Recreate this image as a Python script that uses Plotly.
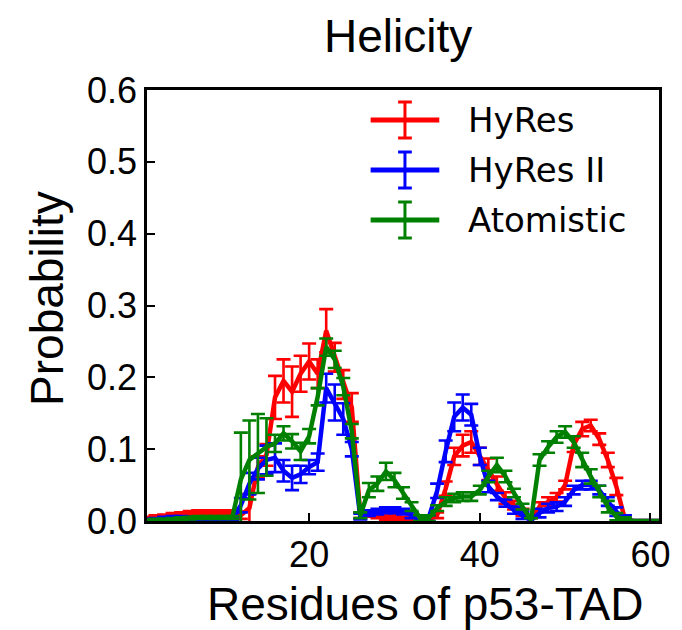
import plotly.graph_objects as go

# Residue index along p53-TAD
residues = list(range(1, 62))

# Helicity per residue (mean) and its error, for each model
hyres = [0.003, 0.005, 0.006, 0.008, 0.009, 0.011, 0.012, 0.012, 0.012, 0.012,
         0.012, 0.008, 0.018, 0.075, 0.092, 0.172, 0.195, 0.180, 0.205, 0.222,
         0.205, 0.265, 0.228, 0.190, 0.158, 0.008, 0.010, 0.008, 0.005, 0.004,
         0.002, 0.001, 0.001, 0.002, 0.008, 0.045, 0.090, 0.105, 0.110, 0.090,
         0.072, 0.052, 0.032, 0.022, 0.012, 0.001, 0.020, 0.027, 0.033, 0.050,
         0.106, 0.128, 0.133, 0.114, 0.085, 0.048, 0.003, 0.0, 0.0, 0.0, 0.0]
hyres_err = [0.003] * 11 + [0.005, 0.020, 0.015, 0.015, 0.030, 0.030, 0.035, 0.025, 0.025,
             0.020, 0.030, 0.020, 0.020, 0.020] + [0.004] * 10 + [
             0.010, 0.012, 0.015, 0.015, 0.012, 0.015, 0.010, 0.008, 0.006, 0.005,
             0.003, 0.006, 0.006, 0.006, 0.006, 0.010, 0.010, 0.008, 0.008, 0.010,
             0.012, 0.005, 0.0, 0.0, 0.0, 0.0]

hyres2 = [0.001, 0.002, 0.004, 0.005, 0.005, 0.004, 0.003, 0.003, 0.003, 0.003,
          0.003, 0.022, 0.052, 0.073, 0.085, 0.088, 0.070, 0.060, 0.065, 0.075,
          0.082, 0.185, 0.165, 0.142, 0.100, 0.006, 0.011, 0.013, 0.015, 0.015,
          0.013, 0.008, 0.001, 0.004, 0.042, 0.097, 0.145, 0.158, 0.148, 0.090,
          0.048, 0.034, 0.025, 0.015, 0.008, 0.001, 0.011, 0.018, 0.020, 0.027,
          0.043, 0.050, 0.050, 0.043, 0.027, 0.013, 0.002, 0.0, 0.0, 0.0, 0.0]
hyres2_err = [0.002] * 11 + [0.010, 0.015, 0.015, 0.020, 0.020, 0.015, 0.017, 0.012, 0.010,
              0.012, 0.020, 0.025, 0.022, 0.010] + [0.004] * 9 + [
              0.010, 0.015, 0.020, 0.018, 0.015, 0.012, 0.008, 0.005, 0.005, 0.005,
              0.005, 0.005] + [0.006] * 11 + [0.0] * 4

atomistic = [0.0, 0.001, 0.001, 0.002, 0.003, 0.004, 0.005, 0.005, 0.005, 0.005,
             0.005, 0.058, 0.085, 0.094, 0.103, 0.108, 0.122, 0.111, 0.097, 0.118,
             0.173, 0.242, 0.225, 0.187, 0.125, 0.008, 0.043, 0.052, 0.069, 0.057,
             0.039, 0.020, 0.004, 0.004, 0.018, 0.027, 0.032, 0.034, 0.034, 0.043,
             0.062, 0.078, 0.062, 0.039, 0.020, 0.001, 0.085, 0.103, 0.117, 0.124,
             0.110, 0.085, 0.062, 0.041, 0.020, 0.006, 0.002, 0.0, 0.0, 0.0, 0.0]
atomistic_err = [0.002] * 11 + [0.065, 0.055, 0.055, 0.040, 0.012, 0.010, 0.010, 0.012, 0.010,
                 0.012, 0.012, 0.012, 0.012, 0.010, 0.004, 0.010, 0.010, 0.012, 0.010,
                 0.008, 0.006, 0.004, 0.004, 0.004, 0.006, 0.006, 0.006, 0.006, 0.006,
                 0.008, 0.010, 0.008, 0.006, 0.004, 0.003, 0.008, 0.008, 0.008, 0.008,
                 0.008, 0.010, 0.010, 0.008, 0.008, 0.005, 0.003, 0.0, 0.0, 0.0, 0.0]

series_names = ["HyRes", "HyRes II", "Atomistic"]
series_colors = ["#ff0000", "#0000ff", "#008000"]
series_values = [hyres, hyres2, atomistic]
series_errors = [hyres_err, hyres2_err, atomistic_err]

y_ticks = [0.0, 0.1, 0.2, 0.3, 0.4, 0.5, 0.6]
x_ticks = [20, 40, 60]

W, H = 682, 630
M_L, M_R, M_T, M_B = 147, 13, 90, 109
PLOT_W = W - M_L - M_R
PLOT_H = H - M_T - M_B

TEXT_FONT = "Liberation Sans, Arial, sans-serif"
LEGEND_FONT = "DejaVu Sans, sans-serif"


def px_x(px):
    return (px - M_L) / PLOT_W


def px_y(py):
    return (H - M_B - py) / PLOT_H


fig = go.Figure()
for name, color, vals, errs in zip(series_names, series_colors, series_values, series_errors):
    fig.add_trace(go.Scatter(
        x=residues, y=vals, name=name, mode="lines",
        line=dict(color=color, width=4.5),
        error_y=dict(type="data", array=errs, visible=True,
                     color=color, thickness=2.6, width=7),
        showlegend=False,
    ))

# Hand-drawn legend: line with an error-bar glyph, then the label
shapes = []
annotations = []
for i, (name, color) in enumerate(zip(series_names, series_colors)):
    cy = 120 + 50 * i
    shapes.append(dict(type="line", xref="paper", yref="paper",
                       x0=px_x(375), x1=px_x(445), y0=px_y(cy), y1=px_y(cy),
                       line=dict(color=color, width=5)))
    shapes.append(dict(type="line", xref="paper", yref="paper",
                       x0=px_x(410), x1=px_x(410), y0=px_y(cy - 18), y1=px_y(cy + 18),
                       line=dict(color=color, width=3)))
    for dy in (-18, 18):
        shapes.append(dict(type="line", xref="paper", yref="paper",
                           x0=px_x(403), x1=px_x(417), y0=px_y(cy + dy), y1=px_y(cy + dy),
                           line=dict(color=color, width=3)))
    annotations.append(dict(text=name, xref="paper", yref="paper",
                            x=px_x(472), y=px_y(cy), xanchor="left", yanchor="middle",
                            showarrow=False,
                            font=dict(family=LEGEND_FONT, size=34, color="black")))

# Axis titles and chart title
annotations.append(dict(text="Residues of p53-TAD", xref="paper", yref="paper",
                        x=px_x(430), y=px_y(604), xanchor="center", yanchor="middle",
                        showarrow=False, font=dict(family=TEXT_FONT, size=46, color="black")))
annotations.append(dict(text="Probability", xref="paper", yref="paper",
                        x=px_x(45), y=px_y(298), xanchor="center", yanchor="middle",
                        textangle=-90, showarrow=False,
                        font=dict(family=TEXT_FONT, size=46, color="black")))
annotations.append(dict(text="Helicity", xref="paper", yref="paper",
                        x=px_x(403), y=px_y(36), xanchor="center", yanchor="middle",
                        showarrow=False, font=dict(family=TEXT_FONT, size=46, color="black")))

fig.update_layout(
    width=W, height=H,
    margin=dict(l=M_L, r=M_R, t=M_T, b=M_B, pad=0),
    paper_bgcolor="white", plot_bgcolor="white",
    shapes=shapes, annotations=annotations,
    showlegend=False,
)
fig.update_xaxes(
    range=[1, 61], tickvals=x_ticks, ticktext=[str(v) for v in x_ticks],
    ticks="inside", ticklen=8, tickwidth=1.5, tickcolor="black",
    showline=True, linecolor="black", linewidth=2.5, mirror=True,
    showgrid=False, zeroline=False,
    tickfont=dict(family=TEXT_FONT, size=36, color="black"),
)
fig.update_yaxes(
    range=[0, 0.6], tickvals=y_ticks, ticktext=[f"{v:.1f}" for v in y_ticks],
    ticks="inside", ticklen=8, tickwidth=1.5, tickcolor="black",
    showline=True, linecolor="black", linewidth=2.5, mirror=True,
    showgrid=False, zeroline=False,
    tickfont=dict(family=TEXT_FONT, size=36, color="black"),
)

fig.write_html("out.html")
